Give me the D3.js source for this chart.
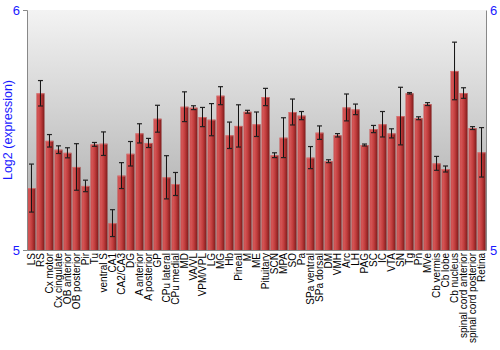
<!DOCTYPE html>
<html lang="en">
<head>
<meta charset="UTF-8">
<title>Log2 expression by region</title>
<style>
  body { margin: 0; background: #fff; font-family: "Liberation Sans", Arial, sans-serif; }
</style>
<script src="https://d3js.org/d3.v7.min.js"></script>
</head>
<body>
<div id="chart"></div>
<script>
// regions, mean log2 expression and error (+/-)
var regions = ["LS", "RS", "Cx motor", "Cx cingulate", "OB anterior", "OB posterior", "Pir", "Tu",
  "ventral S", "CA1", "CA2/CA3", "DG", "A anterior", "A posterior", "GP", "CPu lateral", "CPu medial",
  "MD", "VA/VL", "VPM/VPL", "LG", "MG", "Hb", "Pineal", "M", "ME", "Pituitary", "SCN", "MPA", "SO",
  "Pa", "SPa ventral", "SPa dorsal", "DM", "VMH", "Arc", "LH", "PAG", "SC", "IC", "VTA", "SN", "Tg",
  "Pn", "MVe", "Cb vermis", "Cb lobe", "Cb nucleus", "spinal cord anterior", "spinal cord posterior", "Retina"];

var values = [5.258, 5.653, 5.455, 5.418, 5.405, 5.346, 5.267, 5.44,
  5.443, 5.112, 5.31, 5.401, 5.486, 5.446, 5.547, 5.303, 5.275,
  5.597, 5.593, 5.554, 5.543, 5.643, 5.478, 5.517, 5.576, 5.524, 5.6375, 5.395, 5.468, 5.575,
  5.56, 5.385, 5.489, 5.37, 5.478, 5.594, 5.586, 5.4375, 5.504, 5.524, 5.486, 5.558, 5.653,
  5.549, 5.608, 5.361, 5.3375, 5.746, 5.654, 5.508, 5.407];

var errors = [0.1, 0.053, 0.026, 0.016, 0.021, 0.097, 0.024, 0.008,
  0.049, 0.056, 0.054, 0.051, 0.04, 0.019, 0.056, 0.09, 0.048,
  0.062, 0.008, 0.04, 0.067, 0.0375, 0.055, 0.088, 0.006, 0.051, 0.036, 0.01, 0.083, 0.054,
  0.017, 0.046, 0.028, 0.006, 0.007, 0.056, 0.022, 0.004, 0.015, 0.053, 0.019, 0.12, 0.003,
  0.006, 0.006, 0.029, 0.0125, 0.12, 0.022, 0.006, 0.103];

var yTicks = [5, 6];

var data = regions.map(function(r, i) {
  return { region: r, value: values[i], err: errors[i] };
});

var W = 500, H = 350;
var margin = {top: 10, right: 14, bottom: 100, left: 27};
var width = W - margin.left - margin.right,
    height = H - margin.top - margin.bottom;

var svg = d3.select("#chart").append("svg")
  .attr("width", W)
  .attr("height", H);

var defs = svg.append("defs");

var bg = defs.append("linearGradient")
  .attr("id", "bgGrad")
  .attr("x1", 0).attr("y1", 0).attr("x2", 0).attr("y2", 1);
bg.append("stop").attr("offset", "0%").attr("stop-color", "#f3f3f3");
bg.append("stop").attr("offset", "100%").attr("stop-color", "#a4a4a4");

var barGrad = defs.append("linearGradient")
  .attr("id", "barGrad")
  .attr("x1", 0).attr("y1", 0).attr("x2", 1).attr("y2", 0);
barGrad.append("stop").attr("offset", "0%").attr("stop-color", "#c84848");
barGrad.append("stop").attr("offset", "20%").attr("stop-color", "#d45656");
barGrad.append("stop").attr("offset", "55%").attr("stop-color", "#c13c3c");
barGrad.append("stop").attr("offset", "100%").attr("stop-color", "#7e1a1a");

var g = svg.append("g")
  .attr("transform", "translate(" + margin.left + "," + margin.top + ")");

var x = d3.scaleBand()
  .domain(regions)
  .range([0, width])
  .paddingInner(0.11)
  .paddingOuter(0.05);

var y = d3.scaleLinear()
  .domain([5, 6])
  .range([height, 0]);

// plot background
g.append("rect")
  .attr("width", width)
  .attr("height", height)
  .attr("fill", "url(#bgGrad)");

// bars
g.selectAll(".bar")
  .data(data)
  .enter()
  .append("rect")
    .attr("class", "bar")
    .attr("x", function(d) { return x(d.region); })
    .attr("y", function(d) { return y(d.value); })
    .attr("width", x.bandwidth())
    .attr("height", function(d) { return height - y(d.value); })
    .attr("fill", "url(#barGrad)");

// thin highlight on bar tops
g.selectAll(".bartop")
  .data(data)
  .enter()
  .append("rect")
    .attr("x", function(d) { return x(d.region); })
    .attr("y", function(d) { return y(d.value); })
    .attr("width", x.bandwidth())
    .attr("height", 1)
    .attr("fill", "#e07a7a")
    .attr("opacity", 0.7);

// error bars
var eb = g.selectAll(".err")
  .data(data)
  .enter()
  .append("g")
    .attr("transform", function(d) { return "translate(" + (x(d.region) + x.bandwidth() / 2) + ",0)"; });

eb.append("line")
  .attr("y1", function(d) { return y(d.value + d.err); })
  .attr("y2", function(d) { return y(d.value - d.err); })
  .attr("stroke", "#111")
  .attr("stroke-width", 1);

eb.append("line")
  .attr("x1", -2.5).attr("x2", 2.5)
  .attr("y1", function(d) { return y(d.value + d.err); })
  .attr("y2", function(d) { return y(d.value + d.err); })
  .attr("stroke", "#222")
  .attr("stroke-width", 1.2);

eb.append("line")
  .attr("x1", -2.5).attr("x2", 2.5)
  .attr("y1", function(d) { return y(d.value - d.err); })
  .attr("y2", function(d) { return y(d.value - d.err); })
  .attr("stroke", "#222")
  .attr("stroke-width", 1.2);

// axes
var left = g.append("g")
  .call(d3.axisLeft(y).tickValues(yTicks).tickFormat(d3.format("d")).tickSize(4).tickPadding(3));
left.select(".domain").attr("stroke", "#888");
left.selectAll(".tick line").attr("stroke", "#888");
left.selectAll("text").attr("fill", "#1a1aff").style("font-size", "13px")
  .style("font-family", "Liberation Sans, Arial, sans-serif");

var right = g.append("g")
  .attr("transform", "translate(" + width + ",0)")
  .call(d3.axisRight(y).tickValues(yTicks).tickFormat(d3.format("d")).tickSize(0).tickPadding(4));
right.select(".domain").attr("stroke", "#888");
right.selectAll("text").attr("fill", "#1a1aff").style("font-size", "13px")
  .style("font-family", "Liberation Sans, Arial, sans-serif");

var bottom = g.append("g")
  .attr("transform", "translate(0," + height + ")")
  .call(d3.axisBottom(x).tickSize(0).tickPadding(3));
bottom.select(".domain").attr("stroke", "#888");
bottom.selectAll("text")
  .attr("transform", "rotate(-90)")
  .attr("x", -3)
  .attr("y", 0)
  .attr("dy", "0.35em")
  .style("text-anchor", "end")
  .style("font-size", "10px")
  .style("font-family", "Liberation Sans, Arial, sans-serif")
  .attr("fill", "#000");

// y label
svg.append("text")
  .attr("transform", "translate(12,130) rotate(-90)")
  .attr("text-anchor", "middle")
  .attr("fill", "#1a1aff")
  .style("font-size", "12.5px")
  .style("font-family", "Liberation Sans, Arial, sans-serif")
  .text("Log2 (expression)");
</script>
</body>
</html>
